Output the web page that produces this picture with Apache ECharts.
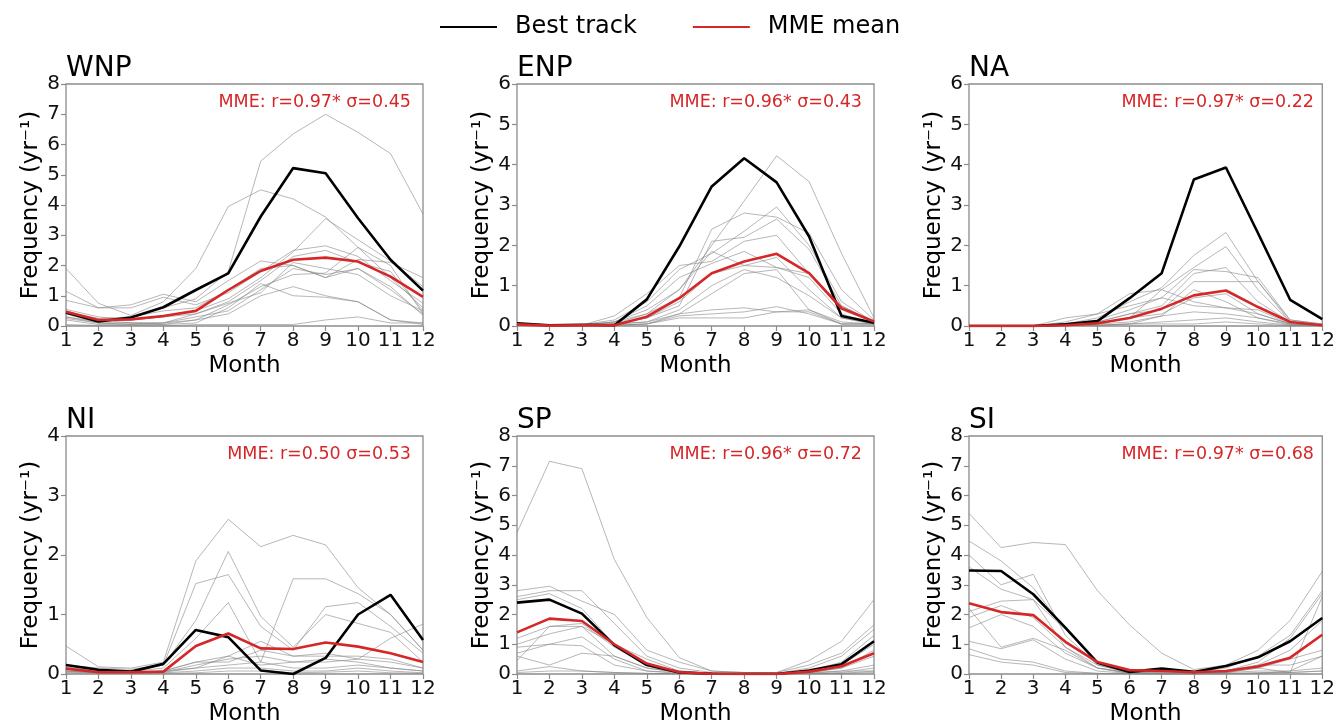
<!DOCTYPE html>
<html><head><meta charset="utf-8">
<script src="https://cdn.jsdelivr.net/npm/echarts@6/dist/echarts.min.js"></script>
<style>html,body{margin:0;padding:0;background:#fff}#c{width:1338px;height:727px}</style>
</head><body><div id="c"></div>
<script>
// ---------------- data ----------------
const months = [1,2,3,4,5,6,7,8,9,10,11,12];
const monthTicks = ['1','2','3','4','5','6','7','8','9','10','11','12'];
const regions = ['WNP','ENP','NA','NI','SP','SI'];
const yMax = [8,6,6,4,8,8];
const statLabels = ['MME: r=0.97* σ=0.45','MME: r=0.96* σ=0.43','MME: r=0.97* σ=0.22',
                    'MME: r=0.50 σ=0.53','MME: r=0.96* σ=0.72','MME: r=0.97* σ=0.68'];

const bestWNP = [0.45,0.15,0.28,0.62,1.19,1.74,3.62,5.22,5.05,3.56,2.19,1.17];
const mmeWNP  = [0.47,0.20,0.22,0.33,0.50,1.19,1.82,2.19,2.26,2.13,1.63,0.96];
const modelsWNP = [
  [0.40,0.20,0.30,0.60,0.90,1.80,5.45,6.35,7.00,6.40,5.70,3.70],
  [1.90,0.75,0.35,0.80,1.90,3.95,4.50,4.20,3.60,2.60,1.60,0.60],
  [1.15,0.60,0.70,1.05,0.80,1.50,2.15,2.00,1.60,2.20,2.10,1.60],
  [0.85,0.60,0.60,0.95,0.70,1.10,1.80,2.50,2.65,2.30,1.50,0.75],
  [0.55,0.30,0.20,0.30,0.50,0.90,1.60,2.45,3.55,2.85,2.15,1.30],
  [0.50,0.20,0.10,0.10,0.40,0.80,1.50,2.30,2.50,2.10,1.80,0.50],
  [0.40,0.10,0.10,0.05,0.20,0.70,1.30,1.70,1.75,2.60,2.00,0.40],
  [0.30,0.10,0.05,0.10,0.30,0.50,1.20,1.90,1.70,1.90,1.30,0.35],
  [0.25,0.10,0.10,0.10,0.20,0.40,1.00,1.30,1.00,0.80,0.20,0.10],
  [0.30,0.15,0.20,0.30,0.40,0.75,1.10,2.10,1.90,1.70,1.00,0.50],
  [0.05,0.02,0.02,0.00,0.05,0.05,0.05,0.05,0.20,0.30,0.10,0.10],
  [0.20,0.05,0.05,0.05,0.10,0.60,1.40,1.00,0.95,0.80,0.20,0.05],
  [0.45,0.25,0.30,0.50,0.60,1.20,1.90,2.00,1.60,1.90,1.20,0.40]
];

const bestENP = [0.07,0.02,0.03,0.02,0.66,1.97,3.46,4.16,3.56,2.22,0.25,0.08];
const mmeENP  = [0.04,0.01,0.02,0.02,0.23,0.69,1.31,1.60,1.79,1.31,0.44,0.11];
const modelsENP = [
  [0.05,0.02,0.03,0.10,0.40,0.90,2.00,3.10,4.22,3.58,1.80,0.20],
  [0.05,0.02,0.02,0.05,0.30,0.70,2.40,2.80,2.70,2.30,0.90,0.15],
  [0.05,0.02,0.03,0.15,0.60,1.40,1.80,2.35,2.95,2.00,0.60,0.10],
  [0.05,0.02,0.02,0.05,0.20,0.50,2.10,2.20,2.65,1.90,0.50,0.10],
  [0.05,0.02,0.02,0.25,0.80,1.50,1.60,2.10,2.25,1.30,0.40,0.10],
  [0.03,0.02,0.02,0.10,0.50,1.20,1.55,1.85,1.45,1.20,0.30,0.05],
  [0.03,0.02,0.02,0.05,0.20,0.60,1.30,1.50,1.70,0.90,0.20,0.05],
  [0.03,0.02,0.02,0.05,0.10,0.40,1.00,1.40,1.20,0.75,0.20,0.05],
  [0.03,0.02,0.02,0.05,0.10,0.30,0.80,1.30,1.40,0.40,0.05,0.05],
  [0.03,0.01,0.01,0.02,0.05,0.30,0.40,0.45,0.35,0.35,0.05,0.05],
  [0.03,0.01,0.01,0.02,0.05,0.25,0.30,0.35,0.48,0.30,0.05,0.05],
  [0.02,0.01,0.01,0.02,0.05,0.20,0.20,0.20,0.35,0.40,0.10,0.05],
  [0.05,0.02,0.02,0.10,0.30,0.90,1.85,1.50,1.45,1.30,0.50,0.10]
];

const bestNA = [0.00,0.00,0.00,0.04,0.12,0.69,1.31,3.63,3.93,2.30,0.65,0.17];
const mmeNA  = [0.00,0.00,0.00,0.02,0.07,0.20,0.43,0.76,0.88,0.47,0.10,0.02];
const modelsNA = [
  [0,0,0,0.05,0.20,0.60,0.95,1.75,2.32,1.10,0.15,0.05],
  [0,0,0,0.10,0.30,0.80,0.90,1.45,1.97,0.90,0.10,0.03],
  [0,0,0,0.20,0.30,0.50,0.70,1.40,1.35,1.20,0.15,0.05],
  [0,0,0,0.05,0.10,0.30,0.50,1.30,1.45,0.60,0.10,0.02],
  [0,0,0,0.05,0.10,0.30,0.40,1.10,1.10,1.10,0.10,0.02],
  [0,0,0,0.02,0.05,0.20,0.90,0.60,0.45,0.40,0.05,0.02],
  [0,0,0,0.02,0.05,0.20,0.30,0.70,0.80,0.30,0.05,0.01],
  [0,0,0,0.02,0.05,0.10,0.25,0.90,0.60,0.20,0.05,0.01],
  [0,0,0,0.01,0.02,0.05,0.25,0.35,0.30,0.20,0.02,0.01],
  [0,0,0,0.01,0.02,0.05,0.10,0.15,0.20,0.10,0.02,0.01],
  [0,0,0,0.01,0.02,0.05,0.05,0.05,0.10,0.05,0.01,0.00],
  [0,0,0,0.05,0.15,0.40,0.70,0.50,0.45,0.30,0.05,0.02]
];

const bestNI = [0.15,0.07,0.04,0.17,0.74,0.62,0.06,0.00,0.27,1.00,1.33,0.57];
const mmeNI  = [0.09,0.03,0.03,0.04,0.47,0.68,0.43,0.42,0.53,0.46,0.35,0.20];
const modelsNI = [
  [0.47,0.12,0.10,0.20,1.90,2.60,2.14,2.33,2.17,1.45,1.00,0.40],
  [0.15,0.10,0.08,0.15,1.52,1.67,0.80,0.40,1.13,1.20,0.80,0.35],
  [0.12,0.05,0.04,0.15,0.90,2.06,0.97,0.45,1.00,0.85,0.70,0.20],
  [0.10,0.05,0.04,0.10,0.60,1.20,0.20,1.60,1.60,1.35,1.00,0.40],
  [0.10,0.05,0.03,0.05,0.20,0.30,0.55,0.30,0.35,0.25,0.60,0.84],
  [0.08,0.03,0.02,0.05,0.20,0.20,0.40,0.30,0.30,0.30,0.25,0.10],
  [0.05,0.03,0.02,0.03,0.15,0.25,0.30,0.20,0.25,0.20,0.10,0.05],
  [0.05,0.02,0.02,0.03,0.10,0.15,0.20,0.10,0.10,0.15,0.10,0.05],
  [0.03,0.02,0.01,0.02,0.05,0.10,0.10,0.05,0.05,0.10,0.05,0.02],
  [0.05,0.02,0.02,0.05,0.10,0.30,0.15,0.20,0.20,0.25,0.20,0.10],
  [0.02,0.01,0.01,0.01,0.02,0.05,0.05,0.02,0.03,0.05,0.02,0.01]
];

const bestSP = [2.40,2.50,2.03,0.97,0.30,0.05,0.01,0.00,0.00,0.12,0.33,1.10];
const mmeSP  = [1.40,1.86,1.78,1.00,0.35,0.06,0.01,0.00,0.00,0.08,0.26,0.70];
const modelsSP = [
  [4.75,7.15,6.90,3.85,1.90,0.55,0.10,0.05,0.05,0.45,1.10,2.50],
  [2.80,2.95,2.45,2.00,0.80,0.40,0.10,0.05,0.05,0.30,0.70,1.65],
  [2.60,2.80,2.80,1.70,0.60,0.20,0.05,0.02,0.02,0.20,0.60,1.50],
  [2.50,2.70,2.20,1.00,0.50,0.10,0.03,0.02,0.02,0.10,0.40,1.30],
  [1.20,1.60,1.70,0.90,0.30,0.10,0.02,0.01,0.01,0.10,0.30,1.00],
  [1.00,1.35,1.60,0.60,0.20,0.05,0.02,0.01,0.01,0.05,0.20,0.80],
  [0.90,1.00,1.25,0.50,0.10,0.05,0.01,0.00,0.00,0.05,0.20,0.60],
  [0.70,1.00,0.95,0.30,0.10,0.02,0.01,0.00,0.00,0.02,0.10,0.30],
  [0.60,0.30,0.70,0.60,0.20,0.05,0.01,0.00,0.00,0.02,0.05,0.20],
  [0.45,1.60,1.60,1.00,0.30,0.10,0.02,0.00,0.00,0.05,0.10,0.10],
  [0.10,0.25,0.10,0.05,0.02,0.01,0.00,0.00,0.00,0.01,0.02,0.10],
  [0.05,0.10,0.10,0.05,0.02,0.01,0.00,0.00,0.00,0.01,0.02,0.05]
];

const bestSI = [3.48,3.46,2.68,1.56,0.38,0.07,0.18,0.07,0.27,0.56,1.10,1.88];
const mmeSI  = [2.38,2.08,1.98,1.08,0.40,0.13,0.10,0.06,0.10,0.25,0.55,1.32];
const modelsSI = [
  [5.40,4.25,4.42,4.35,2.80,1.65,0.70,0.15,0.30,0.80,1.80,3.45],
  [4.47,3.80,2.90,1.50,0.40,0.10,0.05,0.05,0.20,0.60,1.30,2.80],
  [4.00,3.00,3.35,1.30,0.30,0.05,0.02,0.02,0.10,0.40,1.20,2.70],
  [3.60,2.85,2.50,0.90,0.20,0.05,0.02,0.02,0.10,0.30,0.80,1.80],
  [2.10,2.45,2.50,1.50,0.40,0.05,0.02,0.02,0.05,0.20,0.50,0.80],
  [1.90,2.30,1.90,0.90,0.30,0.05,0.02,0.02,0.05,0.30,0.30,0.60],
  [1.55,2.00,1.60,0.70,0.20,0.02,0.01,0.01,0.05,0.10,0.10,0.20],
  [1.10,0.85,1.15,0.50,0.10,0.02,0.01,0.01,0.02,0.05,0.05,0.10],
  [0.85,0.50,0.40,0.10,0.02,0.01,0.00,0.00,0.01,0.02,0.05,0.10],
  [0.65,0.40,0.30,0.05,0.02,0.01,0.00,0.00,0.01,0.02,0.10,0.60],
  [2.20,0.90,1.20,0.80,0.20,0.02,0.01,0.01,0.05,0.20,0.05,2.60]
];

const bestAll = [bestWNP,bestENP,bestNA,bestNI,bestSP,bestSI];
const mmeAll = [mmeWNP,mmeENP,mmeNA,mmeNI,mmeSP,mmeSI];
const modelsAll = [modelsWNP,modelsENP,modelsNA,modelsNI,modelsSP,modelsSI];

// ---------------- layout ----------------
const colLeft = [66, 517, 969];
const rowTop = [84, 436];
const plotW = 357, plotH = 242;
const FONT = 'DejaVu Sans';

const pairs = arr => arr.map((v,i) => [months[i], v]);

const grids = [], xAxes = [], yAxes = [], series = [], titles = [], graphics = [];
for (let k = 0; k < 6; k++) {
  const L = colLeft[k % 3], T = rowTop[Math.floor(k / 3)];
  grids.push({left: L, top: T, width: plotW, height: plotH, show: true,
              borderColor: '#8c8c8c', borderWidth: 1.3, backgroundColor: 'transparent'});
  xAxes.push({type: 'value', gridIndex: k, min: 1, max: 12, interval: 1,
    name: 'Month', nameLocation: 'middle', nameGap: 29,
    nameTextStyle: {fontFamily: FONT, fontSize: 23, color: '#000'},
    axisLine: {show: false}, splitLine: {show: false},
    axisTick: {show: true, length: 5, lineStyle: {color: '#8c8c8c', width: 1.2}},
    axisLabel: {fontFamily: FONT, fontSize: 20, color: '#111', margin: 5,
                formatter: v => monthTicks[v - 1]}});
  yAxes.push({type: 'value', gridIndex: k, min: 0, max: yMax[k], interval: 1,
    name: 'Frequency (yr⁻¹)', nameLocation: 'middle', nameGap: 23, nameRotate: 90,
    nameTextStyle: {fontFamily: FONT, fontSize: 23, color: '#000'},
    axisLine: {show: false}, splitLine: {show: false},
    axisTick: {show: true, length: 5, lineStyle: {color: '#8c8c8c', width: 1.2}},
    axisLabel: {fontFamily: FONT, fontSize: 20, color: '#111', margin: 6}});
  modelsAll[k].forEach((m, j) => series.push({
    type: 'line', xAxisIndex: k, yAxisIndex: k, data: pairs(m), symbol: 'none',
    silent: true, z: 2, lineStyle: {color: 'rgba(135,135,135,0.6)', width: 1}}));
  series.push({name: 'Best track', type: 'line', xAxisIndex: k, yAxisIndex: k,
    data: pairs(bestAll[k]), symbol: 'none', z: 3,
    lineStyle: {color: '#000', width: 2.6}, itemStyle: {color: '#000'}});
  series.push({name: 'MME mean', type: 'line', xAxisIndex: k, yAxisIndex: k,
    data: pairs(mmeAll[k]), symbol: 'none', z: 4,
    lineStyle: {color: '#d62728', width: 2.6}, itemStyle: {color: '#d62728'}});
  titles.push({text: regions[k], left: L, top: T - 29, padding: 0,
    textStyle: {fontFamily: FONT, fontSize: 28, fontWeight: 'normal', color: '#000'}});
  graphics.push({type: 'text', x: L + plotW - 12, y: T + 18, z: 10,
    style: {text: statLabels[k], fill: '#d62728', font: '17.5px "DejaVu Sans"',
            align: 'right', verticalAlign: 'middle'}});
}

const chart = echarts.init(document.getElementById('c'), null, {renderer: 'canvas'});
chart.setOption({
  animation: false,
  backgroundColor: '#fff',
  title: titles,
  legend: {data: [{name: 'Best track', icon: 'rect'}, {name: 'MME mean', icon: 'rect'}],
    left: 435, top: 10, itemWidth: 57, itemHeight: 2, itemGap: 56,
    textStyle: {fontFamily: FONT, fontSize: 24, color: '#000', padding: [0, 0, 0, 13]}},
  grid: grids, xAxis: xAxes, yAxis: yAxes, series: series, graphic: graphics
});
</script></body></html>
